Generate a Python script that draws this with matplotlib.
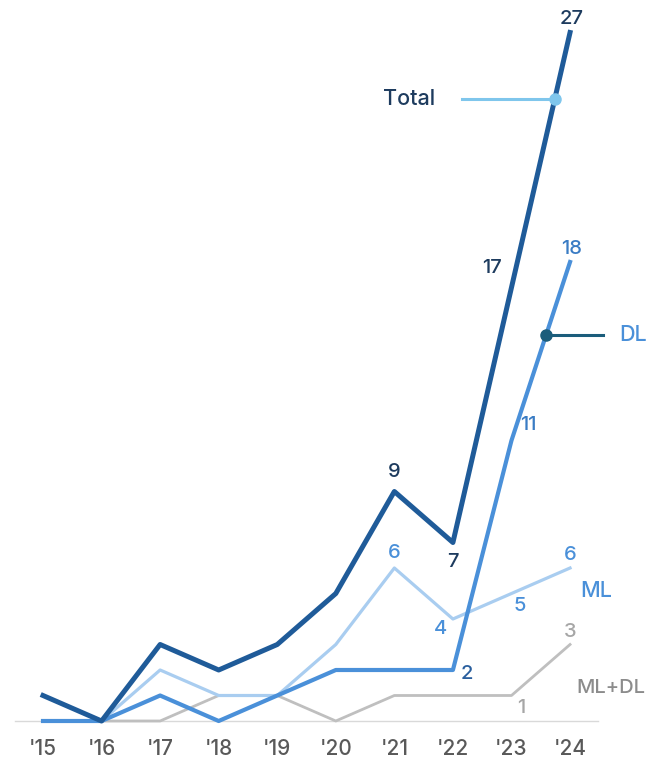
import matplotlib.pyplot as plt
import numpy as np

plt.rcParams['font.family'] = ['Inter', 'DejaVu Sans']

years = ["'15", "'16", "'17", "'18", "'19", "'20", "'21", "'22", "'23", "'24"]
total = [1, 0, 3, 2, 3, 5, 9, 7, 17, 27]
dl = [0, 0, 1, 0, 1, 2, 2, 2, 11, 18]
ml = [0, 0, 2, 1, 1, 3, 6, 4, 5, 6]
mldl = [0, 0, 0, 1, 1, 0, 1, 1, 1, 3]

c_total = "#1f5b99"
c_dl = "#4a90d9"
c_ml = "#a9cdf0"
c_mldl = "#bfbfbf"
c_navy = "#1d3b5e"

x = np.arange(len(years))

fig = plt.figure(figsize=(6.5, 7.68), dpi=100)
# axes spans figure width; bottom edge sits on the zero baseline
ax = fig.add_axes([0, 47 / 768, 1, 721 / 768])
ax.set_xlim(-43 / 58.56, (650 - 43) / 58.56)
ax.set_ylim(0, 721 / 25.5)

ax.plot([(15 - 43) / 58.56, (598 - 43) / 58.56], [0, 0], color="#d9d9d9", lw=1, zorder=1, clip_on=False)

ax.plot(x, mldl, color=c_mldl, lw=2.0, zorder=2, clip_on=False)
ax.plot(x, ml, color=c_ml, lw=2.3, zorder=3, clip_on=False)
ax.plot(x, dl, color=c_dl, lw=3.0, zorder=4, clip_on=False)
ax.plot(x, total, color=c_total, lw=3.6, zorder=5, clip_on=False)

fs = 14.5
fs_name = 15.5

def lab(i, vals, dx, dy, color):
    ax.annotate(str(vals[i]), (i, vals[i]), xytext=(dx, dy), textcoords="offset points",
                ha="center", va="center", fontsize=fs, color=color, fontweight="medium")

# value labels
lab(9, total, 1, 10, c_navy)
lab(8, total, -14, 14, c_navy)
lab(6, total, 0, 14, c_navy)
lab(7, total, 0, -14, c_navy)

lab(9, dl, 1, 9, "#3a7cc4")
lab(8, dl, 12, 11, "#3a7cc4")
lab(7, dl, 10, -3, "#2a5f9e")

lab(6, ml, 0, 11, c_dl)
lab(7, ml, -9, -7, c_dl)
lab(8, ml, 6, -9, c_dl)
lab(9, ml, 0, 9, c_dl)

lab(9, mldl, 0, 9, "#a6a6a6")
lab(8, mldl, 7, -9, "#a6a6a6")

# series callouts
lvl_t = (721 - 99) / 25.5
xt = np.interp(lvl_t, [total[8], total[9]], [8, 9])
ax.plot([(462 - 43) / 58.56, xt], [lvl_t, lvl_t], color="#7fc6ec", lw=2.2, zorder=6)
ax.plot(xt, lvl_t, "o", color="#7fc6ec", ms=8, zorder=7)
ax.text((409 - 43) / 58.56, lvl_t, "Total", ha="center", va="center", fontsize=fs_name,
        color=c_navy, fontweight="medium")

lvl_d = (721 - 335) / 25.5
xd = np.interp(lvl_d, [dl[8], dl[9]], [8, 9])
ax.plot([xd, (603 - 43) / 58.56], [lvl_d, lvl_d], color="#1b5d7b", lw=2.2, zorder=6)
ax.plot(xd, lvl_d, "o", color="#1b5d7b", ms=8, zorder=7)
ax.text((633 - 43) / 58.56, lvl_d, "DL", ha="center", va="center", fontsize=fs_name,
        color=c_dl, fontweight="medium")

ax.text((596 - 43) / 58.56, (721 - 591) / 25.5, "ML", ha="center", va="center", fontsize=fs_name,
        color=c_dl, fontweight="medium")
ax.text((611 - 43) / 58.56, (721 - 688) / 25.5, "ML+DL", ha="center", va="center", fontsize=fs,
        color="#8c8c8c", fontweight="medium")

ax.set_xticks(x)
ax.set_xticklabels(years, fontsize=15, color="#595959", fontweight="medium")
ax.tick_params(axis="x", length=0, pad=13)
ax.set_yticks([])
for s in ax.spines.values():
    s.set_visible(False)

fig.savefig("out.png", dpi=100)
